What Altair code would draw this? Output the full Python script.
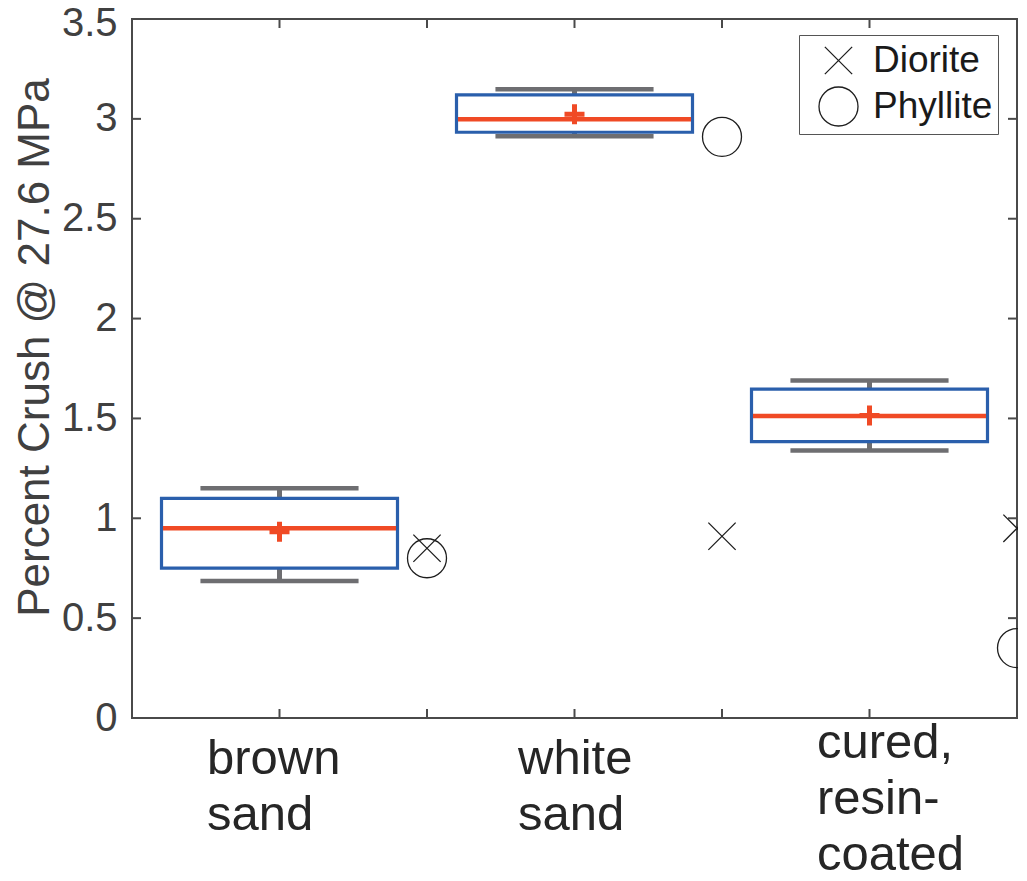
import json
import altair as alt
import pandas as pd

# ---------------- data ----------------
categories = ["brown sand", "white sand", "cured, resin-coated"]
x_label_lines = [["brown", "sand"], ["white", "sand"], ["cured,", "resin-", "coated"]]
box_pos = [1, 3, 5]
whisk_lo = [0.686, 2.913, 1.340]
q1 = [0.750, 2.933, 1.384]
median = [0.950, 2.998, 1.512]
mean = [0.933, 3.023, 1.515]
q3 = [1.100, 3.120, 1.647]
whisk_hi = [1.150, 3.148, 1.690]

point_pos = [2, 4, 6]
diorite = [0.85, 0.91, 0.95]
phyllite = [0.80, 2.91, 0.35]
minerals = ["Diorite", "Phyllite"]

y_ticks = [0, 0.5, 1, 1.5, 2, 2.5, 3, 3.5]
x_ticks = [1, 2, 3, 4, 5]

# ---------------- styling ----------------
BLUE = "#2a5fac"
RED = "#f04a25"
GRAY = "#6e6e71"
AX = "#4a4a4a"
FONT = "Liberation Sans"
W, H = 885, 699
BOX_HALF = 0.8
CAP_HALF = 0.536
MED_HALF = 0.79
TICK_LEN = 9

box_df = pd.DataFrame({"cat": categories, "pos": box_pos, "lo": whisk_lo, "q1": q1,
                       "med": median, "mean": mean, "q3": q3, "hi": whisk_hi})
pts_df = pd.DataFrame({
    "pos": point_pos + point_pos,
    "val": diorite + phyllite,
    "mineral": [minerals[0]] * len(point_pos) + [minerals[1]] * len(point_pos),
})
yt_df = pd.DataFrame({"v": y_ticks})
xt_df = pd.DataFrame({"v": x_ticks})

# label expression built from the label arrays
expr_parts = []
for p, lines in zip(box_pos, x_label_lines):
    expr_parts.append(f"datum.value == {p} ? {json.dumps(lines)} : ")
label_expr = "".join(expr_parts) + "''"

xscale = alt.Scale(domain=[0, 6], nice=False, zero=False)
yscale = alt.Scale(domain=[0, 3.5], nice=False, zero=False)

xaxis = alt.Axis(
    values=x_ticks, labelExpr=label_expr, title=None, grid=False, domain=False,
    ticks=False, tickSize=0, labelFont=FONT, labelFontSize=49, labelColor="#262626",
    labelLineHeight=56, labelAlign="left", labelBaseline="top",
    labelOverlap=False, labelBound=False, labelFlush=False, labelLimit=400,
    labelOffset={"condition": [{"test": "datum.value == 1", "value": -73},
                               {"test": "datum.value == 3", "value": -57}],
                 "value": -53},
    labelPadding={"condition": {"test": "datum.value == 5", "value": 0}, "value": 16},
)
yaxis = alt.Axis(
    values=y_ticks, format=".1~f", title="Percent Crush @ 27.6 MPa", grid=False,
    domain=False, ticks=False, tickSize=0, labelFont=FONT, labelFontSize=40,
    labelColor="#404040", labelPadding=15, labelOverlap=False, labelBound=False,
    labelFlush=False,
    labelOffset={"condition": {"test": "datum.value == 3.5", "value": 4}, "value": 0},
    titleFont=FONT, titleFontSize=44, titleFontWeight="normal",
    titleColor="#404040", titleAngle=270, titleAlign="center",
    titleBaseline="alphabetic", titleX=-84, titleY=328,
)


def X(f):
    return alt.X(f, type="quantitative", scale=xscale, axis=xaxis)


def Y(f):
    return alt.Y(f, type="quantitative", scale=yscale, axis=yaxis)


base = alt.Chart(box_df).transform_calculate(
    bl=f"datum.pos - {BOX_HALF}", br=f"datum.pos + {BOX_HALF}",
    cl=f"datum.pos - {CAP_HALF}", cr=f"datum.pos + {CAP_HALF}",
    ml=f"datum.pos - {MED_HALF}", mr=f"datum.pos + {MED_HALF}",
)

caps_hi = base.mark_rule(color=GRAY, strokeWidth=4.5, strokeCap="butt").encode(
    x=X("cl"), x2="cr", y=Y("hi"))
caps_lo = base.mark_rule(color=GRAY, strokeWidth=4.5, strokeCap="butt").encode(
    x=X("cl"), x2="cr", y=Y("lo"))
wh_hi = base.mark_rule(color=GRAY, strokeWidth=5, strokeCap="butt").encode(
    x=X("pos"), y=Y("q3"), y2="hi")
wh_lo = base.mark_rule(color=GRAY, strokeWidth=5, strokeCap="butt").encode(
    x=X("pos"), y=Y("lo"), y2="q1")
box = base.mark_rect(fill="white", fillOpacity=0, stroke=BLUE, strokeWidth=3.2).encode(
    x=X("bl"), x2="br", y=Y("q1"), y2="q3")
med = base.mark_rule(color=RED, strokeWidth=4.5, strokeCap="butt").encode(
    x=X("ml"), x2="mr", y=Y("med"))
mean_pt = base.mark_point(shape="M-1,0L1,0M0,-1L0,1", size=400, filled=False,
                          color=RED, strokeWidth=5, opacity=1).encode(
    x=X("pos"), y=Y("mean"))

XPATH = "M-0.7,-0.7L0.7,0.7M-0.7,0.7L0.7,-0.7"
pts = alt.Chart(pts_df).mark_point(filled=False, size=1521, color="#1e1e1e",
                                   strokeWidth=1.3, opacity=1).encode(
    x=X("pos"), y=Y("val"),
    shape=alt.Shape("mineral:N", scale=alt.Scale(domain=minerals, range=[XPATH, "circle"]),
                    legend=alt.Legend(title=None, orient="none", legendX=667, legendY=16,
                                      strokeColor="#555555", fillColor="white", padding=5,
                                      symbolOffset=14, symbolSize=1521,
                                      symbolStrokeWidth=1.3, symbolStrokeColor="#1e1e1e",
                                      symbolFillColor="transparent",
                                      labelFont=FONT, labelFontSize=37, labelColor="#1a1a1a",
                                      labelOffset=14, rowPadding=5)),
)

ytick_l = alt.Chart(yt_df).mark_rule(color=AX, strokeWidth=2).encode(
    y=Y("v"), x=alt.value(0), x2=alt.value(TICK_LEN))
ytick_r = alt.Chart(yt_df).mark_rule(color=AX, strokeWidth=2).encode(
    y=Y("v"), x=alt.value(W - TICK_LEN), x2=alt.value(W))
xtick_b = alt.Chart(xt_df).mark_rule(color=AX, strokeWidth=2).encode(
    x=X("v"), y=alt.value(H - TICK_LEN), y2=alt.value(H))
xtick_t = alt.Chart(xt_df).mark_rule(color=AX, strokeWidth=2).encode(
    x=X("v"), y=alt.value(0), y2=alt.value(TICK_LEN))

chart = alt.layer(
    ytick_l, ytick_r, xtick_b, xtick_t,
    caps_hi, caps_lo, wh_hi, wh_lo, box, med, mean_pt, pts,
).properties(
    width=W, height=H,
    autosize=alt.AutoSizeParams(type="none"),
    padding={"left": 124, "top": 11, "right": 1, "bottom": 153},
    background="white",
).configure_view(stroke=AX, strokeWidth=2)

chart.save("out.html", embed_options={"renderer": "svg", "actions": False})
